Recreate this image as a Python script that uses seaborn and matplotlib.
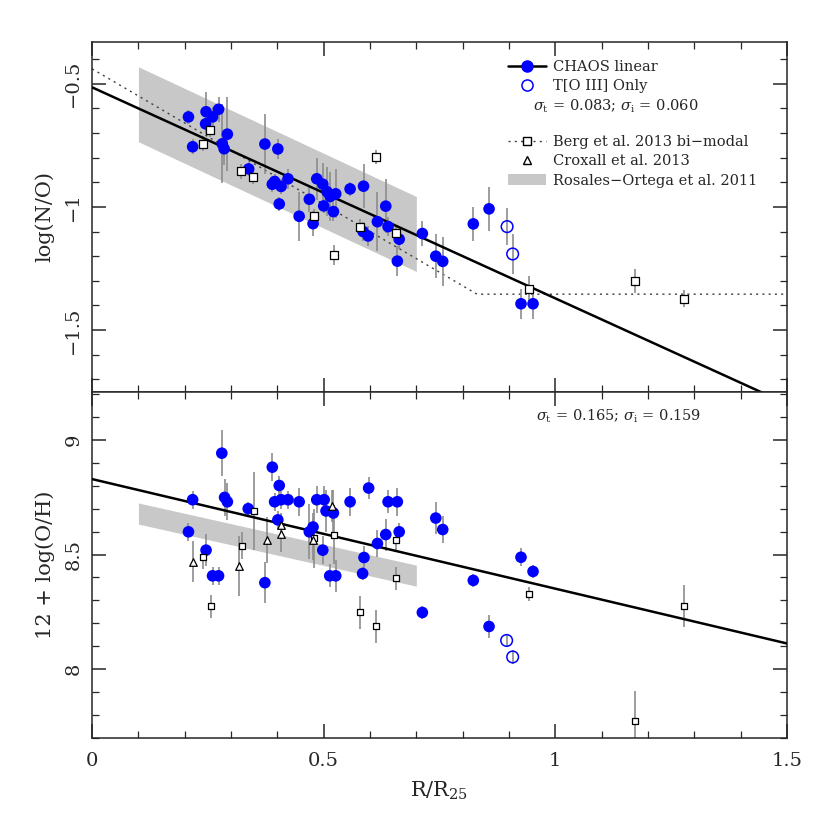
import numpy as np
import pandas as pd
import matplotlib
matplotlib.use("Agg")
import matplotlib.pyplot as plt
import seaborn as sns
from matplotlib.lines import Line2D
from matplotlib.patches import Patch
from matplotlib.ticker import MultipleLocator, FuncFormatter

# ---- top panel: log(N/O) ----
r_no = [0.208, 0.217, 0.246, 0.245, 0.260, 0.273, 0.292, 0.281, 0.285, 0.373,
        0.401, 0.338, 0.423, 0.394, 0.389, 0.408, 0.404, 0.447, 0.469, 0.477,
        0.485, 0.498, 0.507, 0.514, 0.526, 0.500, 0.521, 0.557, 0.586, 0.634,
        0.616, 0.639, 0.585, 0.596, 0.663, 0.713, 0.659, 0.742, 0.757, 0.823,
        0.857, 0.926, 0.952]
no = [-0.635, -0.756, -0.614, -0.663, -0.635, -0.604, -0.705, -0.744, -0.764, -0.745,
      -0.765, -0.846, -0.886, -0.897, -0.908, -0.917, -0.988, -1.038, -0.969, -1.068,
      -0.886, -0.908, -0.938, -0.958, -0.947, -0.996, -1.019, -0.927, -0.916, -0.997,
      -1.060, -1.080, -1.100, -1.118, -1.131, -1.108, -1.220, -1.200, -1.221, -1.069,
      -1.008, -1.393, -1.393]
no_err = [0.03, 0.03, 0.08, 0.04, 0.04, 0.05, 0.15, 0.16, 0.065, 0.12,
          0.04, 0.03, 0.04, 0.03, 0.03, 0.03, 0.03, 0.10, 0.05, 0.05,
          0.085, 0.085, 0.10, 0.10, 0.10, 0.03, 0.04, 0.03, 0.09, 0.11,
          0.12, 0.04, 0.04, 0.04, 0.04, 0.05, 0.06, 0.09, 0.10, 0.07,
          0.09, 0.06, 0.06]
r_no_t3 = [0.896, 0.908]
no_t3 = [-1.080, -1.191]
no_t3_err = [0.075, 0.08]
r_no_berg = [0.239, 0.255, 0.322, 0.348, 0.613, 0.479, 0.579, 0.657, 0.523, 0.943, 1.173, 1.279]
no_berg = [-0.744, -0.688, -0.856, -0.877, -0.798, -1.038, -1.080, -1.104, -1.196, -1.332, -1.301, -1.373]
no_berg_err = [0.03, 0.03, 0.03, 0.03, 0.03, 0.03, 0.03, 0.03, 0.04, 0.05, 0.05, 0.035]

# ---- bottom panel: 12 + log(O/H) ----
r_oh = [0.280, 0.217, 0.208, 0.246, 0.260, 0.273, 0.286, 0.292, 0.373, 0.389,
        0.404, 0.394, 0.408, 0.423, 0.401, 0.337, 0.447, 0.485, 0.501, 0.505,
        0.521, 0.477, 0.469, 0.498, 0.513, 0.526, 0.557, 0.597, 0.587, 0.584,
        0.616, 0.634, 0.639, 0.659, 0.663, 0.742, 0.757, 0.713, 0.823, 0.857,
        0.926, 0.952]
oh = [8.942, 8.739, 8.599, 8.519, 8.407, 8.407, 8.749, 8.730, 8.377, 8.881,
      8.801, 8.730, 8.739, 8.739, 8.651, 8.700, 8.730, 8.739, 8.739, 8.690,
      8.681, 8.620, 8.599, 8.519, 8.407, 8.407, 8.730, 8.790, 8.487, 8.417,
      8.548, 8.587, 8.730, 8.730, 8.599, 8.659, 8.609, 8.247, 8.387, 8.186,
      8.488, 8.426]
oh_err = [0.10, 0.04, 0.04, 0.07, 0.04, 0.04, 0.08, 0.08, 0.09, 0.06,
          0.04, 0.04, 0.04, 0.04, 0.04, 0.03, 0.06, 0.06, 0.06, 0.09,
          0.10, 0.06, 0.12, 0.06, 0.05, 0.07, 0.06, 0.05, 0.05, 0.03,
          0.06, 0.07, 0.05, 0.06, 0.04, 0.07, 0.06, 0.03, 0.03, 0.05,
          0.04, 0.03]
r_oh_t3 = [0.895, 0.908]
oh_t3 = [8.125, 8.053]
oh_t3_err = [0.03, 0.03]
r_oh_berg = [0.349, 0.323, 0.239, 0.256, 0.479, 0.523, 0.657, 0.657, 0.579, 0.613, 0.943, 1.279, 1.173]
oh_berg = [8.690, 8.539, 8.488, 8.275, 8.570, 8.587, 8.564, 8.397, 8.247, 8.186, 8.327, 8.275, 7.773]
oh_berg_err = [0.17, 0.06, 0.05, 0.05, 0.13, 0.13, 0.05, 0.05, 0.07, 0.07, 0.03, 0.09, 0.13]
r_oh_crox = [0.217, 0.317, 0.377, 0.407, 0.407, 0.477, 0.518]
oh_crox = [8.468, 8.449, 8.562, 8.591, 8.629, 8.564, 8.713]
oh_crox_err = [0.09, 0.13, 0.10, 0.08, 0.05, 0.09, 0.07]

# fits: (intercept, slope)
no_fit = (-0.515, -0.856)
oh_fit = (8.829, -0.478)
berg_no = (-0.44, -1.10, 0.831)          # intercept, slope, break radius (flat beyond)
rosales_no = (-0.496, -0.877, 0.152)     # intercept, slope, half width
rosales_oh = (8.724, -0.452, 0.046)
rosales_range = (0.1, 0.7)

BLUE = "#0000ff"
ERR = "#8c8c8c"
BAND = "#c8c8c8"

sns.set_style("ticks")
plt.rcParams["font.family"] = ["DejaVu Serif"]
plt.rcParams["mathtext.fontset"] = "dejavuserif"
plt.rcParams["axes.linewidth"] = 1.1

fig = plt.figure(figsize=(8.3, 8.3), dpi=100)
ax1 = fig.add_axes([0.111, 0.528, 0.837, 0.4217])
ax2 = fig.add_axes([0.111, 0.111, 0.837, 0.417])

xs = np.linspace(0, 1.5, 200)
rr = np.linspace(*rosales_range, 50)


def errs(ax, x, y, e, z=2):
    ax.errorbar(x, y, yerr=e, fmt="none", ecolor=ERR, elinewidth=1.2, capsize=0, zorder=z)


# ---------- top ----------
c, m, h = rosales_no
ax1.fill_between(rr, c + m * rr - h, c + m * rr + h, color=BAND, lw=0, zorder=0)
b0, b1, rb = berg_no
ax1.plot(xs, np.where(xs < rb, b0 + b1 * xs, b0 + b1 * rb), ls=(0, (1.5, 3)), color="0.25", lw=1.0, zorder=1)
sns.lineplot(x=xs, y=no_fit[0] + no_fit[1] * xs, ax=ax1, color="black", lw=1.8, zorder=3)
errs(ax1, r_no, no, no_err)
errs(ax1, r_no_t3, no_t3, no_t3_err)
errs(ax1, r_no_berg, no_berg, no_berg_err)
sns.scatterplot(x=r_no, y=no, ax=ax1, color=BLUE, s=70, edgecolor="none", zorder=4)
sns.scatterplot(x=r_no_t3, y=no_t3, ax=ax1, facecolor="none", edgecolor=BLUE, s=70, linewidth=1.1, zorder=4)
sns.scatterplot(x=r_no_berg, y=no_berg, ax=ax1, marker="s", facecolor="white", edgecolor="black",
                s=30, linewidth=0.9, zorder=5)

# ---------- bottom ----------
c, m, h = rosales_oh
ax2.fill_between(rr, c + m * rr - h, c + m * rr + h, color=BAND, lw=0, zorder=0)
sns.lineplot(x=xs, y=oh_fit[0] + oh_fit[1] * xs, ax=ax2, color="black", lw=1.8, zorder=3)
errs(ax2, r_oh, oh, oh_err)
errs(ax2, r_oh_t3, oh_t3, oh_t3_err)
errs(ax2, r_oh_berg, oh_berg, oh_berg_err)
errs(ax2, r_oh_crox, oh_crox, oh_crox_err)
sns.scatterplot(x=r_oh, y=oh, ax=ax2, color=BLUE, s=70, edgecolor="none", zorder=4)
sns.scatterplot(x=r_oh_t3, y=oh_t3, ax=ax2, facecolor="none", edgecolor=BLUE, s=70, linewidth=1.1, zorder=4)
sns.scatterplot(x=r_oh_berg, y=oh_berg, ax=ax2, marker="s", facecolor="white", edgecolor="black",
                s=18, linewidth=0.9, zorder=5)
sns.scatterplot(x=r_oh_crox, y=oh_crox, ax=ax2, marker="^", facecolor="white", edgecolor="black",
                s=30, linewidth=0.9, zorder=5)

fmt = FuncFormatter(lambda v, p: ("%g" % v).replace("-", "\u2212"))
for ax in (ax1, ax2):
    ax.set_xlim(0, 1.5)
    ax.xaxis.set_major_locator(MultipleLocator(0.5))
    ax.xaxis.set_minor_locator(MultipleLocator(0.1))
    ax.yaxis.set_major_locator(MultipleLocator(0.5))
    ax.yaxis.set_minor_locator(MultipleLocator(0.1))
    ax.xaxis.set_major_formatter(fmt)
    ax.yaxis.set_major_formatter(fmt)
    ax.tick_params(which="both", direction="in", top=True, right=True, labelsize=14)
    ax.tick_params(which="major", length=10, width=1.1)
    ax.tick_params(which="minor", length=5, width=0.9)
    ax.tick_params(axis="x", pad=10)
    ax.tick_params(axis="y", pad=7)
    for lab in ax.get_yticklabels():
        lab.set_rotation(90)
        lab.set_va("center")
    ax.set_xlabel("")

ax1.set_ylim(-1.75, -0.33)
ax2.set_ylim(7.7, 9.21)
ax1.tick_params(labelbottom=False)
ax1.set_ylabel("log(N/O)", fontsize=15, labelpad=7)
ax2.set_ylabel("12 + log(O/H)", fontsize=15, labelpad=7)
ax2.set_xlabel("R/R$_{25}$", fontsize=15, labelpad=7)

# legends
h1 = [Line2D([], [], color="black", lw=1.8, marker="o", ms=8, mfc=BLUE, mec=BLUE),
      Line2D([], [], ls="none", marker="o", ms=8, mfc="none", mec=BLUE, mew=1.1)]
leg1 = ax1.legend(h1, ["CHAOS linear", "T[O III] Only"], loc="upper left", bbox_to_anchor=(0.58, 0.985),
                  frameon=False, fontsize=10.5, handlelength=2.6, handletextpad=0.5, labelspacing=0.35)
ax1.add_artist(leg1)
ax1.text(0.635, 0.815, r"$\sigma_{\rm t}$ = 0.083; $\sigma_{\rm i}$ = 0.060", transform=ax1.transAxes,
         fontsize=10.5, va="center")
h2 = [Line2D([], [], color="0.25", lw=1.0, ls=(0, (1.5, 3)), marker="s", ms=5.5, mfc="white", mec="black"),
      Line2D([], [], ls="none", marker="^", ms=6, mfc="white", mec="black"),
      Patch(facecolor=BAND, edgecolor="none")]
ax1.legend(h2, ["Berg et al. 2013 bi\u2212modal", "Croxall et al. 2013", "Rosales\u2212Ortega et al. 2011"],
           loc="upper left", bbox_to_anchor=(0.58, 0.77), frameon=False, fontsize=10.5,
           handlelength=2.6, handletextpad=0.5, labelspacing=0.35)
ax2.text(0.757, 0.93, r"$\sigma_{\rm t}$ = 0.165; $\sigma_{\rm i}$ = 0.159", transform=ax2.transAxes,
         fontsize=10.5, ha="center", va="center")

fig.savefig("out.png", dpi=100)
